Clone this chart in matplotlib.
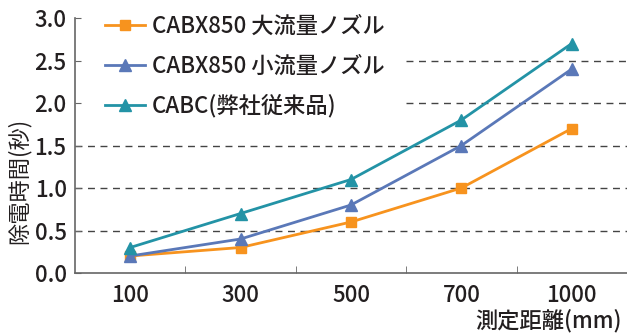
import matplotlib
matplotlib.use("Agg")
import matplotlib.pyplot as plt

plt.rcParams['font.family'] = ['Noto Sans CJK JP', 'DejaVu Sans']
plt.rcParams['font.weight'] = 'medium'

distances = ['100', '300', '500', '700', '1000']
large_nozzle = [0.2, 0.3, 0.6, 1.0, 1.7]
small_nozzle = [0.2, 0.4, 0.8, 1.5, 2.4]
cabc_old = [0.3, 0.7, 1.1, 1.8, 2.7]
labels = ['CABX850 大流量ノズル', 'CABX850 小流量ノズル', 'CABC(弊社従来品)']

orange = '#f7931e'
blue = '#5a78b8'
teal = '#2393a6'
txt = '#231f20'

fig = plt.figure(figsize=(6.27, 3.33), dpi=100)
ax = fig.add_axes([75/627, 60/333, 552/627, 255/333])

x = list(range(len(distances)))
ax.plot(x, large_nozzle, '-s', color=orange, lw=2, ms=7, label=labels[0], zorder=3)
ax.plot(x, small_nozzle, '-^', color=blue, lw=2, ms=8, label=labels[1], zorder=4)
ax.plot(x, cabc_old, '-^', color=teal, lw=2, ms=8, label=labels[2], zorder=5)

ax.set_xlim(-0.5, 4.5)
ax.set_ylim(0, 3.0)
ax.set_xticks(x)
ax.set_xticklabels(distances)
ax.set_xticks([0.5, 1.5, 2.5, 3.5, 4.5], minor=True)
ax.tick_params(axis='x', which='major', length=0, pad=8, labelsize=16, colors=txt)
ax.tick_params(axis='x', which='minor', length=5, direction='in', color='#666666')
ax.set_yticks([0, 0.5, 1.0, 1.5, 2.0, 2.5, 3.0])
ax.set_yticklabels(['0.0', '0.5', '1.0', '1.5', '2.0', '2.5', '3.0'])
ax.tick_params(axis='y', length=4, direction='in', labelsize=16, colors=txt, color='#666666', pad=6)

for s in ['top', 'right']:
    ax.spines[s].set_visible(False)
for s in ['left', 'bottom']:
    ax.spines[s].set_color('#666666')
    ax.spines[s].set_linewidth(1.2)

# dashed grid; the upper two lines stop where the legend sits
for yv in [0.5, 1.0, 1.5]:
    ax.axhline(yv, color='#444444', lw=1.0, ls=(0, (5, 4)), zorder=1)
for yv in [2.0, 2.5]:
    ax.hlines(yv, 2.5, 4.5, color='#444444', lw=1.0, ls=(0, (5, 4)), zorder=1)

leg = ax.legend(loc='upper left', bbox_to_anchor=(0.046, 1.03), frameon=False, fontsize=16,
                handlelength=1.8, labelspacing=0.75, borderaxespad=0, borderpad=0.2,
                handletextpad=0.3)
for t in leg.get_texts():
    t.set_color(txt)

ax.set_ylabel('除電時間(秒)', fontsize=16, color=txt)
ax.yaxis.set_label_coords(-0.08, 0.36)
fig.text(622/627, 1/333, '測定距離(mm)', ha='right', va='bottom', fontsize=16, color=txt)

fig.savefig('out.png', dpi=100)
